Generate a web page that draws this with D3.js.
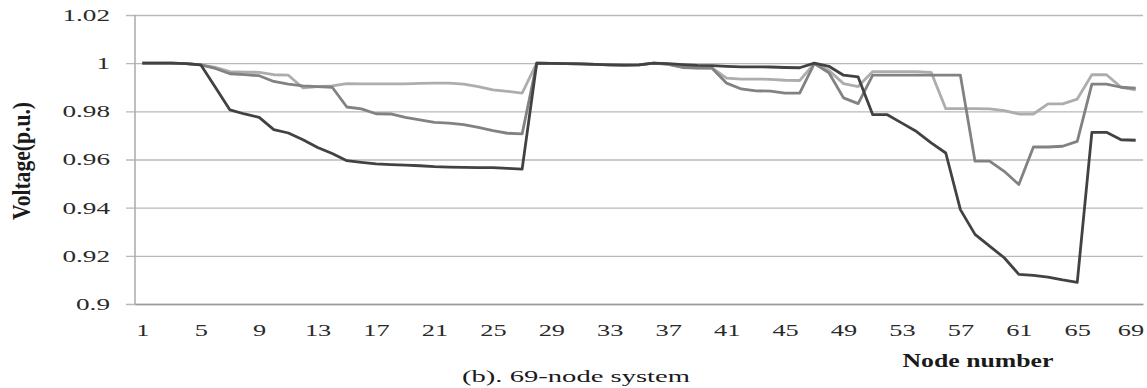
<!DOCTYPE html>
<html>
<head>
<meta charset="utf-8">
<script src="https://cdn.jsdelivr.net/npm/d3@7"></script>
<style>
  html, body { margin: 0; padding: 0; background: #ffffff; }
  svg { display: block; }
  text { font-family: "Liberation Serif", "Times New Roman", serif; }
</style>
</head>
<body>
<svg id="chart" width="1147" height="388"></svg>
<script>
// ---- data ----
const nodes = [1,2,3,4,5,6,7,8,9,10,11,12,13,14,15,16,17,18,19,20,21,22,23,24,25,26,27,28,29,30,
  31,32,33,34,35,36,37,38,39,40,41,42,43,44,45,46,47,48,49,50,51,52,53,54,55,56,57,58,59,60,
  61,62,63,64,65,66,67,68,69];

const seriesLight = [1.0,1.0,1.0,0.9998,0.9993,0.9983,0.9965,0.9963,0.9962,0.9952,
  0.9950,0.9897,0.9903,0.9906,0.9915,0.9914,0.9914,0.9914,0.9914,0.9916,
  0.9917,0.9917,0.9913,0.9903,0.9889,0.9883,0.9876,1.0,0.9999,0.9998,
  0.9997,0.9995,0.9993,0.9992,0.9993,1.0,0.9996,0.9983,0.9981,0.9980,
  0.9938,0.9934,0.9934,0.9933,0.9929,0.9928,0.9998,0.9970,0.9915,0.9903,
  0.9965,0.9965,0.9965,0.9965,0.9962,0.9811,0.9811,0.9811,0.9810,0.9803,
  0.9789,0.9789,0.9831,0.9831,0.9851,0.9952,0.9952,0.9900,0.9889];

const seriesMedium = [1.0,1.0,1.0,0.9998,0.9993,0.9978,0.9956,0.9952,0.9948,0.9924,
  0.9913,0.9906,0.9903,0.9900,0.9818,0.9810,0.9790,0.9789,0.9775,0.9765,
  0.9754,0.9751,0.9745,0.9733,0.9720,0.9709,0.9706,1.0,0.9999,0.9998,
  0.9997,0.9995,0.9993,0.9992,0.9993,1.0,0.9995,0.9982,0.9980,0.9979,
  0.9917,0.9893,0.9885,0.9884,0.9876,0.9876,0.9998,0.9960,0.9856,0.9832,
  0.9950,0.9950,0.9950,0.9950,0.9950,0.9950,0.9950,0.9593,0.9593,0.9551,
  0.9496,0.9652,0.9652,0.9655,0.9675,0.9913,0.9913,0.9900,0.9896];

const seriesDark = [1.0,1.0,1.0,0.9998,0.9993,0.9900,0.9806,0.9789,0.9775,0.9724,
  0.9710,0.9682,0.9650,0.9625,0.9595,0.9588,0.9582,0.9579,0.9577,0.9574,
  0.9570,0.9568,0.9567,0.9566,0.9566,0.9563,0.9560,1.0,0.9999,0.9998,
  0.9997,0.9995,0.9993,0.9992,0.9993,1.0,0.9998,0.9994,0.9991,0.9990,
  0.9987,0.9985,0.9985,0.9984,0.9982,0.9981,1.0,0.9987,0.9950,0.9943,
  0.9786,0.9786,0.9751,0.9716,0.9669,0.9627,0.9392,0.9289,0.9240,0.9192,
  0.9123,0.9119,0.9112,0.9100,0.9090,0.9713,0.9713,0.9682,0.9680];

const xTickValues = [1,5,9,13,17,21,25,29,33,37,41,45,49,53,57,61,65,69];
const yTickValues = [0.9,0.92,0.94,0.96,0.98,1.0,1.02];
const yTickLabels = ["0.9","0.92","0.94","0.96","0.98","1","1.02"];

const yAxisTitle = "Voltage(p.u.)";
const xAxisTitle = "Node number";
const caption = "(b). 69-node system";

// ---- layout ----
const svg = d3.select("#chart");
const plotLeft = 135, plotRight = 1143, plotTop = 15, plotBottom = 304;

const x = d3.scalePoint().domain(nodes).range([plotLeft, plotRight]).padding(0.5);
const y = d3.scaleLinear().domain([0.9, 1.02]).range([plotBottom, plotTop]);

function stretch(sel, k) {
  sel.each(function () {
    const w = this.getComputedTextLength();
    this.setAttribute("textLength", w * k);
    this.setAttribute("lengthAdjust", "spacingAndGlyphs");
  });
}

// gridlines + y ticks
const yAxis = svg.append("g")
  .attr("transform", `translate(${plotLeft},0)`)
  .call(d3.axisLeft(y)
    .tickValues(yTickValues)
    .tickSize(-(plotRight - plotLeft))
    .tickSizeOuter(0)
    .tickPadding(0)
    .tickFormat((d, i) => yTickLabels[i]));
yAxis.select(".domain").remove();
yAxis.selectAll(".tick line")
  .attr("x1", -9)
  .attr("stroke", "#b9b9b9")
  .attr("stroke-width", 1.4);
yAxis.selectAll(".tick text")
  .attr("x", -25)
  .attr("fill", "#2a2a2a")
  .style("font-size", "17px")
  .style("font-family", "'Liberation Serif', serif");
stretch(yAxis.selectAll(".tick text"), 1.6);

// y axis line
svg.append("line")
  .attr("x1", plotLeft).attr("x2", plotLeft)
  .attr("y1", plotTop).attr("y2", plotBottom)
  .attr("stroke", "#aaaaaa").attr("stroke-width", 1.5);

// x axis
const xAxis = svg.append("g")
  .attr("transform", `translate(0,${plotBottom})`)
  .call(d3.axisBottom(x)
    .tickValues(xTickValues)
    .tickSize(0)
    .tickSizeOuter(0)
    .tickPadding(0));
xAxis.select(".domain")
  .attr("stroke", "#9a9a9a").attr("stroke-width", 1.5);
xAxis.selectAll(".tick text")
  .attr("dy", null)
  .attr("y", 32)
  .attr("fill", "#2a2a2a")
  .style("font-size", "17px")
  .style("font-family", "'Liberation Serif', serif");
stretch(xAxis.selectAll(".tick text"), 1.55);
// keep the last tick label inside the picture
xAxis.selectAll(".tick text")
  .filter(d => d === xTickValues[xTickValues.length - 1])
  .attr("text-anchor", "end")
  .attr("x", 8);

// lines
const line = d3.line()
  .x((d, i) => x(nodes[i]))
  .y(d => y(d));

const seriesList = [
  { values: seriesLight, color: "#adadad" },
  { values: seriesMedium, color: "#828282" },
  { values: seriesDark, color: "#424242" }
];
svg.append("g").selectAll("path")
  .data(seriesList)
  .join("path")
  .attr("d", d => line(d.values))
  .attr("fill", "none")
  .attr("stroke", d => d.color)
  .attr("stroke-width", 2.8)
  .attr("stroke-linejoin", "round");

// titles
const yt = svg.append("text")
  .attr("transform", "translate(30,161) scale(1.45,1) rotate(-90)")
  .attr("text-anchor", "middle")
  .attr("fill", "#1a1a1a")
  .style("font-size", "17px")
  .style("font-weight", "bold")
  .text(yAxisTitle);
yt.attr("textLength", 118).attr("lengthAdjust", "spacingAndGlyphs");

const xt = svg.append("text")
  .attr("x", 978).attr("y", 367)
  .attr("text-anchor", "middle")
  .attr("fill", "#1a1a1a")
  .style("font-size", "18px")
  .style("font-weight", "bold")
  .text(xAxisTitle);
xt.attr("textLength", 151).attr("lengthAdjust", "spacingAndGlyphs");

const cap = svg.append("text")
  .attr("x", 576).attr("y", 382)
  .attr("text-anchor", "middle")
  .attr("fill", "#1a1a1a")
  .style("font-size", "17px")
  .text(caption);
cap.attr("textLength", 228).attr("lengthAdjust", "spacingAndGlyphs");
</script>
</body>
</html>
